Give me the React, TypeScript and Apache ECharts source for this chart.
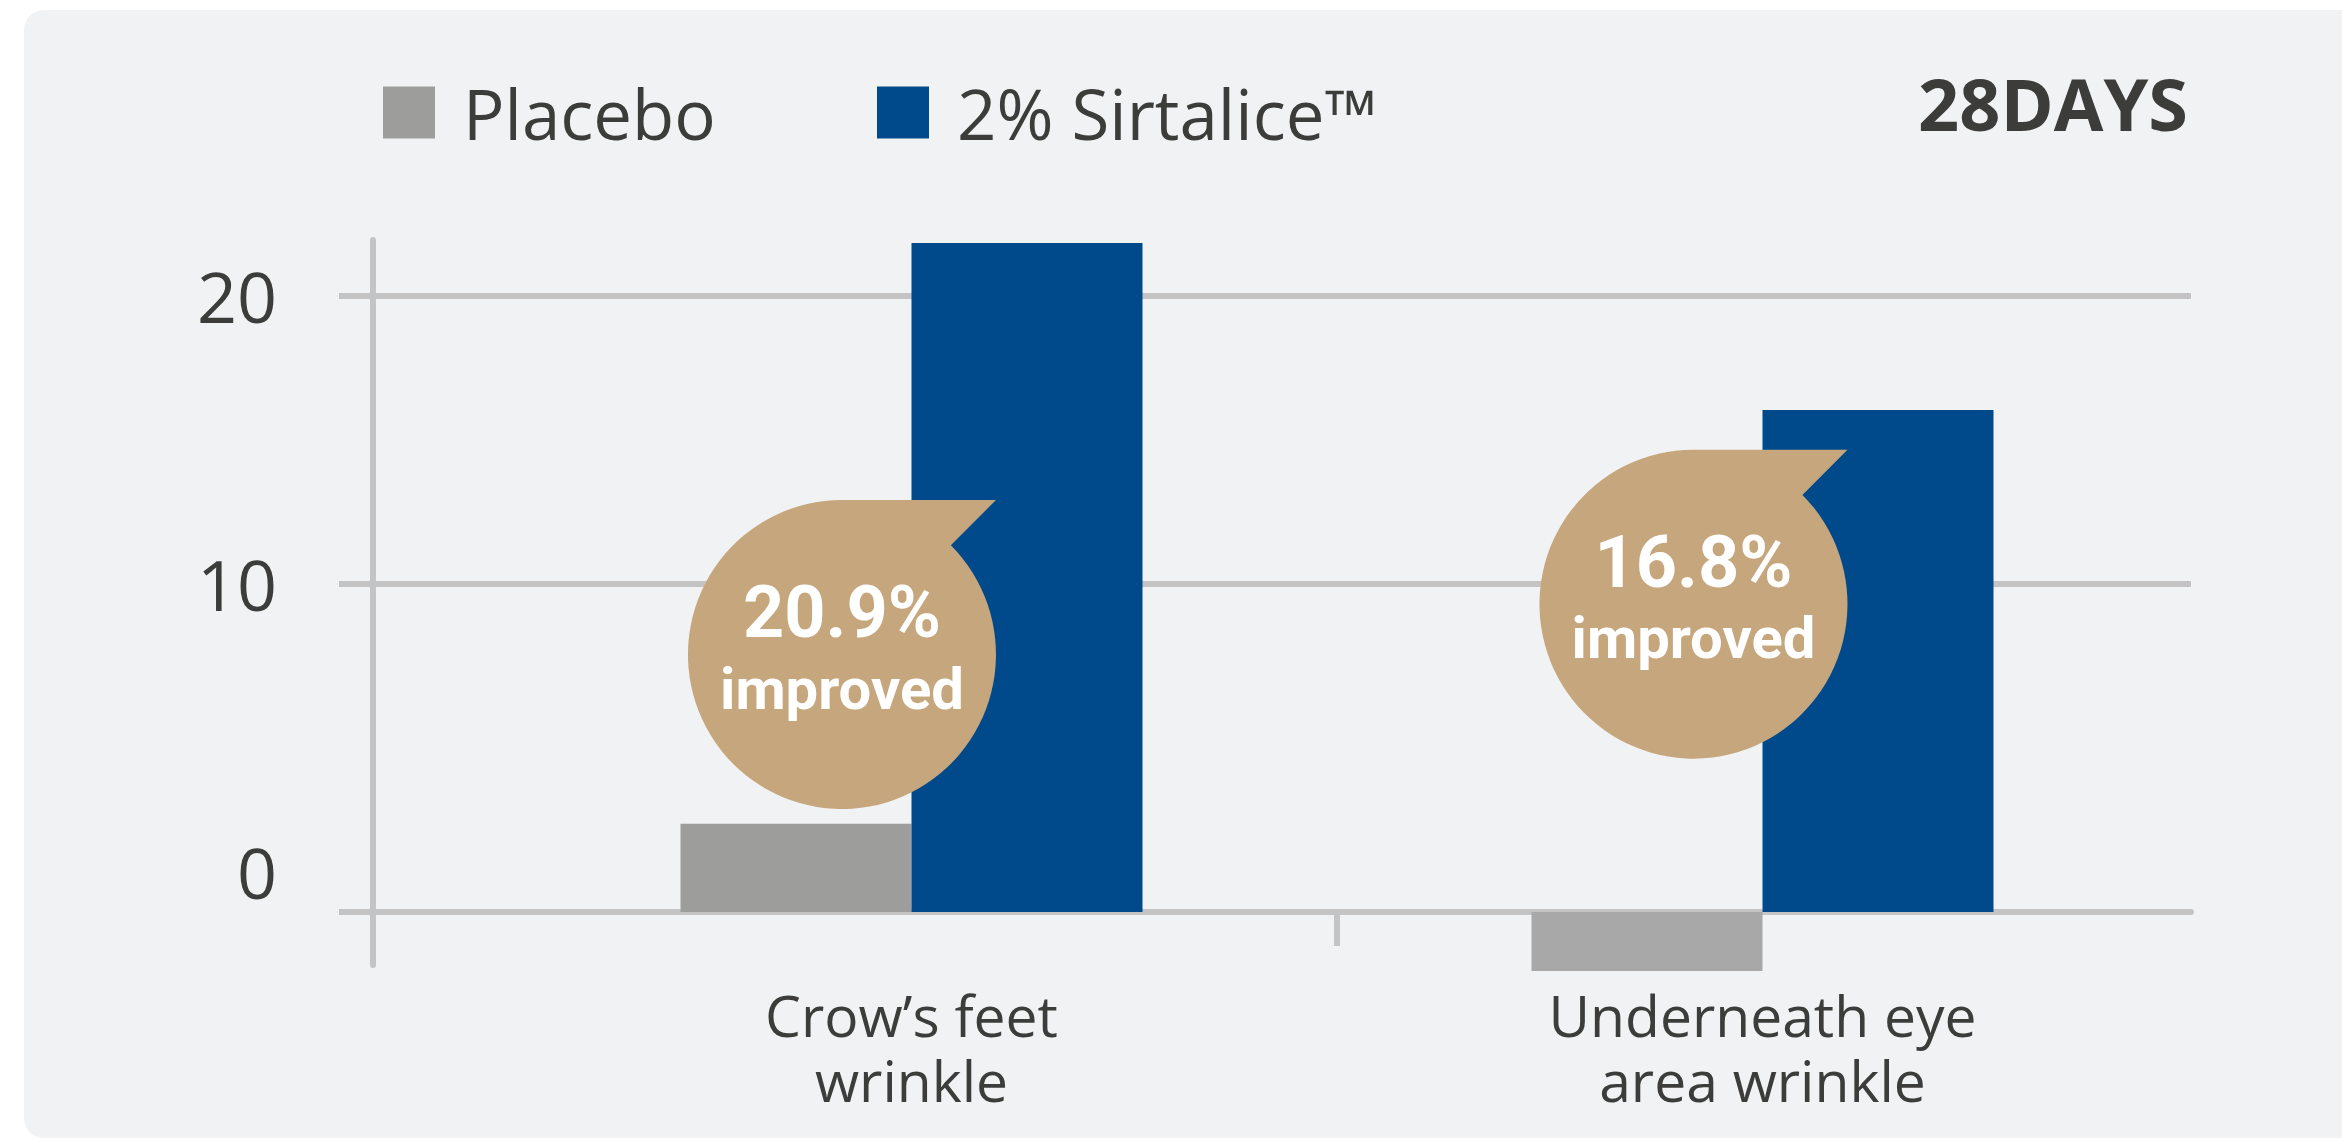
import React, { useEffect, useRef } from 'react';
import * as echarts from 'echarts';

// ---- data ----
const categories = ['Crow’s feet\nwrinkle', 'Underneath eye\narea wrinkle'];
const categoryPositions = [0, 1];
const seriesNames = ['Placebo', '2% Sirtalice™'];
// values measured from the bar baseline
const placeboValues = [3.06, -2.05];
const sirtaliceValues = [23.23, 17.43];
const yTickLabels = [0, 10, 20];
const yGridValues = [10, 20];
const calloutTexts = ['20.9%', '16.8%'];
const calloutSubText = 'improved';
const periodLabel = '28DAYS';

// ---- layout / style constants ----
const W = 2342;
const H = 1142;
const FONT = '"Open Sans", "Noto Sans", sans-serif';
const TEXT = '#3c3c3b';
const GRID_GRAY = '#c4c4c4';
const PLACEBO_COLORS = ['#9d9d9c', '#a8a8a8'];
const BLUE = '#004a8b';
const TAN = '#c6a67c';
const CALLOUT_POS = [
  [-0.0817, 8.94],
  [0.9189, 10.69],
];
const BUBBLE = 'path://M0,-100L100,-100L70.71,-70.71A100,100,0,1,1,0,-100Z';

export default function App() {
  const ref = useRef<HTMLDivElement>(null);

  useEffect(() => {
    document.body.style.margin = '0';
    if (!ref.current) return;
    const chart = echarts.init(ref.current, null, { renderer: 'svg' });

    const option: any = {
      animation: false,
      backgroundColor: 'transparent',
      title: {
        text: periodLabel,
        right: 154,
        top: 67,
        padding: 0,
        textStyle: {
          fontFamily: FONT,
          fontWeight: 'bold',
          fontSize: 72,
          lineHeight: 72,
          color: TEXT,
        },
      },
      legend: seriesNames.map((n, i) => ({
        data: [n],
        left: i === 0 ? 383 : 877,
        top: 78,
        padding: 0,
        icon: 'rect',
        itemWidth: 52,
        itemHeight: 52,
        textStyle: {
          fontFamily: FONT,
          fontSize: 69,
          color: TEXT,
          padding: [0, 0, 0, 23],
        },
      })),
      grid: {
        left: 373,
        right: W - 2191,
        top: 240,
        bottom: H - 965,
        containLabel: false,
        outerBoundsMode: 'none',
      },
      xAxis: {
        type: 'value',
        min: -0.63278,
        max: 1.50353,
        axisLine: {
          show: true,
          onZero: true,
          onZeroAxisIndex: 1,
          lineStyle: { color: GRID_GRAY, width: 6 },
        },
        axisTick: {
          show: true,
          customValues: [0.5],
          length: 34,
          lineStyle: { color: GRID_GRAY, width: 6 },
        },
        axisLabel: {
          show: true,
          customValues: categoryPositions,
          formatter: (v: number) => categories[Math.round(v)] ?? '',
          fontFamily: FONT,
          fontSize: 57,
          lineHeight: 65,
          color: TEXT,
          margin: 17,
        },
        splitLine: { show: false },
      },
      yAxis: [
        {
          type: 'value',
          position: 'left',
          min: -3.2292,
          max: 21.9444,
          axisLine: { show: true, onZero: false, lineStyle: { color: GRID_GRAY, width: 6 } },
          axisTick: {
            show: true,
            customValues: yGridValues,
            length: 34,
            lineStyle: { color: GRID_GRAY, width: 6 },
          },
          axisLabel: {
            show: true,
            customValues: yTickLabels,
            fontFamily: FONT,
            fontSize: 70,
            color: TEXT,
            margin: 96,
          },
          splitLine: { show: true, lineStyle: { color: GRID_GRAY, width: 6 } },
        },
        {
          type: 'value',
          position: 'left',
          min: -1.8403,
          max: 23.3333,
          axisLine: { show: false, onZero: false },
          axisTick: {
            show: true,
            customValues: [0],
            length: 34,
            lineStyle: { color: GRID_GRAY, width: 6 },
          },
          axisLabel: { show: false },
          splitLine: { show: false },
        },
      ],
      series: [
        {
          name: seriesNames[0],
          type: 'bar',
          yAxisIndex: 1,
          barWidth: 231,
          barGap: '0%',
          clip: false,
          itemStyle: { color: PLACEBO_COLORS[0] },
          data: placeboValues.map((v, i) => ({
            value: [categoryPositions[i], v],
            itemStyle: { color: PLACEBO_COLORS[i] },
          })),
        },
        {
          name: seriesNames[1],
          type: 'bar',
          yAxisIndex: 1,
          barWidth: 231,
          barGap: '0%',
          clip: false,
          itemStyle: { color: BLUE },
          data: sirtaliceValues.map((v, i) => [categoryPositions[i], v]),
        },
        {
          name: 'callouts',
          type: 'scatter',
          yAxisIndex: 1,
          data: [],
          markPoint: {
            silent: true,
            symbol: BUBBLE,
            symbolSize: [308, 309],
            itemStyle: { color: TAN },
            label: {
              show: true,
              position: 'inside',
              offset: [0, -4],
              formatter: (p: any) => `{a|${p.name}}\n{b|${calloutSubText}}`,
              rich: {
                a: {
                  fontFamily: 'Roboto',
                  fontWeight: 'bold',
                  fontSize: 72,
                  lineHeight: 76,
                  color: '#ffffff',
                  align: 'center',
                },
                b: {
                  fontFamily: 'Roboto',
                  fontWeight: 'bold',
                  fontSize: 58,
                  lineHeight: 76,
                  color: '#ffffff',
                  align: 'center',
                },
              },
            },
            data: calloutTexts.map((t, i) => ({ name: t, coord: CALLOUT_POS[i] })),
          },
        },
      ],
    };

    chart.setOption(option);
    return () => chart.dispose();
  }, []);

  return (
    <div
      style={{
        position: 'absolute',
        left: 0,
        top: 0,
        width: W,
        height: H,
        overflow: 'hidden',
        background: '#ffffff',
      }}
    >
      <div
        style={{
          position: 'absolute',
          left: 24,
          top: 10,
          width: W,
          height: 1128,
          background: '#f1f2f4',
          borderRadius: 20,
        }}
      />
      <div ref={ref} style={{ position: 'absolute', left: 0, top: 0, width: W, height: H }} />
    </div>
  );
}
